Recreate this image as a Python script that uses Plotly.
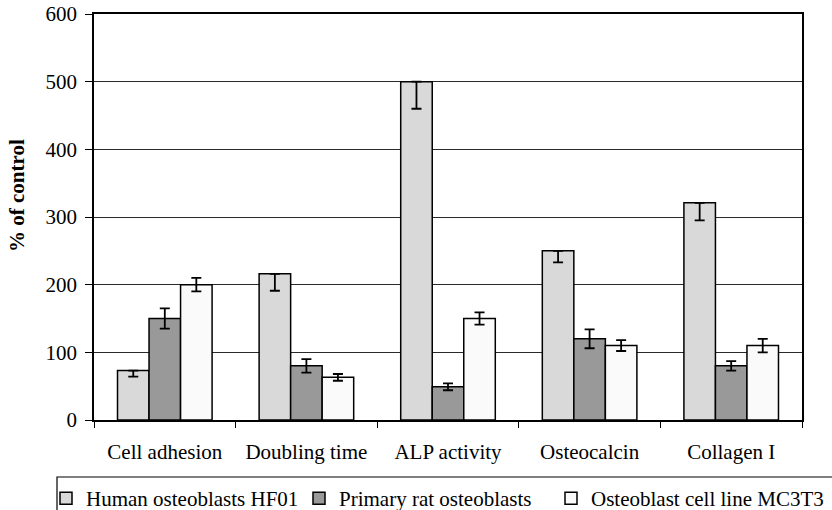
import plotly.graph_objects as go

# Assay categories along the x axis
categories = ["Cell adhesion", "Doubling time", "ALP activity", "Osteocalcin", "Collagen I"]

# Response expressed as % of control, with error estimates
hf01_values = [73, 216, 500, 250, 321]
hf01_err_minus = [9, 25, 40, 17, 26]

rat_values = [150, 80, 49, 120, 80]
rat_err = [15, 10, 5, 14, 7]

mc3t3_values = [200, 63, 150, 110, 110]
mc3t3_err = [10, 5, 9, 8, 10]

y_ticks = [0, 100, 200, 300, 400, 500, 600]

FONT = "Liberation Serif, Times New Roman, serif"
W, H = 832, 510
ML, MR, MT, MB = 94, 30, 14, 90
PW, PH = W - ML - MR, H - MT - MB


def px_x(x):
    """Container pixel x -> paper fraction."""
    return (x - ML) / PW


def px_y(y):
    """Container pixel y (from top) -> paper fraction."""
    return 1 - (y - MT) / PH


fig = go.Figure()

fig.add_trace(go.Bar(
    name="Human osteoblasts HF01",
    x=categories, y=hf01_values,
    marker=dict(color="#d9d9d9", line=dict(color="#000000", width=1.5)),
    error_y=dict(type="data", symmetric=False,
                 array=[0] * len(hf01_values), arrayminus=hf01_err_minus,
                 color="#000000", thickness=1.8, width=5),
    legend="legend",
))
fig.add_trace(go.Bar(
    name="Primary rat osteoblasts",
    x=categories, y=rat_values,
    marker=dict(color="#999999", line=dict(color="#000000", width=1.5)),
    error_y=dict(type="data", array=rat_err,
                 color="#000000", thickness=1.8, width=5),
    legend="legend2",
))
fig.add_trace(go.Bar(
    name="Osteoblast cell line MC3T3",
    x=categories, y=mc3t3_values,
    marker=dict(color="#fafafa", line=dict(color="#000000", width=1.5)),
    error_y=dict(type="data", array=mc3t3_err,
                 color="#000000", thickness=1.8, width=5),
    legend="legend3",
))


def legend_at(left_px):
    return dict(
        orientation="h",
        x=px_x(left_px), y=px_y(478), xanchor="left", yanchor="top",
        borderwidth=0, bgcolor="rgba(0,0,0,0)",
        font=dict(family=FONT, size=21),
        itemclick=False, itemdoubleclick=False,
    )


fig.update_layout(
    width=W, height=H,
    margin=dict(l=ML, r=MR, t=MT, b=MB, autoexpand=False),
    paper_bgcolor="white", plot_bgcolor="white",
    font=dict(family=FONT, size=21, color="#000000"),
    barmode="group", bargap=0.332, bargroupgap=0,
    showlegend=True,
    legend=legend_at(46),
    legend2=legend_at(299),
    legend3=legend_at(551),
    # frame around the legend row, running off the right edge
    shapes=[dict(
        type="rect", xref="paper", yref="paper",
        x0=px_x(57), x1=px_x(845), y0=px_y(477), y1=px_y(520),
        line=dict(color="#000000", width=1.2), fillcolor="rgba(0,0,0,0)",
        layer="below",
    )],
    annotations=[dict(
        text="<b>% of control</b>",
        xref="paper", yref="paper",
        x=px_x(17), y=px_y(196),
        xanchor="center", yanchor="middle",
        textangle=-90, showarrow=False,
        font=dict(family=FONT, size=21),
    )],
)

fig.update_xaxes(
    type="category", automargin=False,
    showline=True, linecolor="#000000", linewidth=1.5, mirror=True,
    ticks="outside", tickson="boundaries", ticklen=6, tickcolor="#000000", tickwidth=1,
    showgrid=False,
    ticklabelstandoff=12,
)
fig.update_yaxes(
    range=[0, 600], tickvals=y_ticks, automargin=False,
    showline=True, linecolor="#000000", linewidth=1.5, mirror=True,
    ticks="outside", ticklen=7, tickcolor="#000000", tickwidth=1,
    showgrid=True, gridcolor="#2a2a2a", gridwidth=1,
    ticklabelstandoff=4,
    zeroline=False,
)

fig.write_html("out.html")
